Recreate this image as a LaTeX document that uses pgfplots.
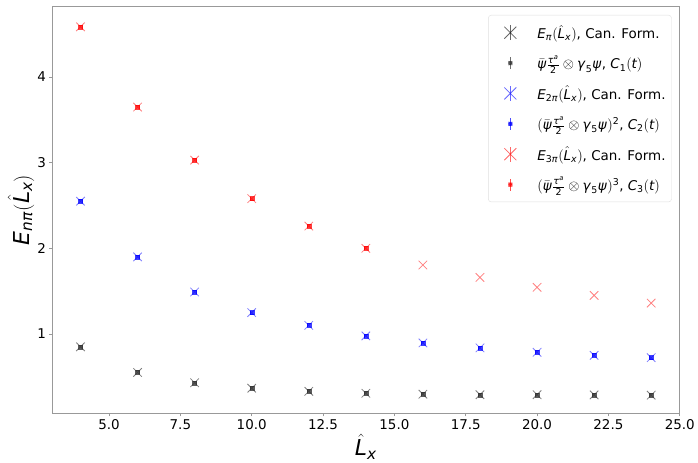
\documentclass[border=0pt]{standalone}
\usepackage{mathspec}
\setmainfont{DejaVu Sans}
\setmathsfont(Digits,Latin,Greek){DejaVu Sans}
\usepackage{pgfplots}
\pgfplotsset{compat=1.18}

% legend images: errorbar with x marker, errorbar with small square
\pgfplotsset{
  xleg/.style={legend image code/.code={
      \path[draw=none, fill=none] (0bp,0bp) -- (43bp,0bp);
      \draw[#1, line width=0.8pt, opacity=0.6] (18bp,-7.5bp) -- (18bp,7.5bp);
      \draw[#1, line width=0.8pt, opacity=0.6]
        (12bp,-6bp) -- (24bp,6bp) (12bp,6bp) -- (24bp,-6bp);}},
  sqleg/.style={legend image code/.code={
      \path[draw=none, fill=none] (0bp,0bp) -- (43bp,0bp);
      \draw[#1, line width=1.6pt, opacity=0.7] (18bp,-6bp) -- (18bp,6bp);
      \fill[#1, opacity=0.8] (16.2bp,-1.8bp) rectangle (19.8bp,1.8bp);}},
}

\begin{document}
\begin{tikzpicture}
\begin{axis}[
  scale only axis, width=628bp, height=408bp,
  xmin=3, xmax=25, ymin=0.067, ymax=4.83,
  xtick={5,7.5,...,25}, ytick={1,2,3,4},
  xticklabel style={/pgf/number format/fixed, /pgf/number format/fixed zerofill,
    /pgf/number format/precision=1},
  /pgf/number format/assume math mode=true,
  tick label style={font=\fontsize{13.5}{16}\selectfont},
  axis line style={draw=gray!80, line width=0.8pt},
  tick style={draw=gray!80, line width=0.6pt}, tick align=outside,
  major tick length=2.5bp, xtick pos=bottom, ytick pos=left,
  xlabel={$\hat{L}_x$}, ylabel={$E_{n\pi}(\hat{L}_x)$},
  every axis x label/.style={at={(axis description cs:0.5,0)}, anchor=center,
    yshift=-33bp, font=\fontsize{22}{26}\selectfont},
  every axis y label/.style={at={(axis description cs:0,0.5)}, rotate=90,
    anchor=center, yshift=31bp, font=\fontsize{22}{26}\selectfont},
  legend style={at={(1,1)}, anchor=north east, xshift=-8bp, yshift=-9bp,
    draw=gray!25, rounded corners=3pt, inner xsep=4bp, inner ysep=8bp,
    font=\fontsize{13.5}{16}\selectfont, row sep=11.5bp},
  legend cell align=left,
]
\addplot[only marks, mark=x, mark size=6bp, black, opacity=0.5,
  mark options={line width=0.8pt}, xleg={black}]
  coordinates {(4,0.85) (6,0.55) (8,0.43) (10,0.366) (12,0.33) (14,0.307)
    (16,0.296) (18,0.29) (20,0.29) (22,0.288) (24,0.285)};
\addlegendentry{$E_{\pi}(\hat{L}_x)$, Can. Form.}
\addplot[only marks, mark=square*, mark size=2bp, black!80, opacity=0.8, sqleg={black!80}]
  coordinates {(4,0.85) (6,0.55) (8,0.43) (10,0.366) (12,0.33) (14,0.307)
    (16,0.296) (18,0.29) (20,0.29) (22,0.288) (24,0.285)};
\addlegendentry{$\bar{\psi}\frac{\tau^a}{2}\otimes\gamma_5\psi$, $C_1(t)$}
\addplot[only marks, mark=x, mark size=6bp, blue, opacity=0.5,
  mark options={line width=0.8pt}, xleg={blue}]
  coordinates {(4,2.55) (6,1.90) (8,1.49) (10,1.25) (12,1.10) (14,0.977)
    (16,0.895) (18,0.837) (20,0.786) (22,0.75) (24,0.723)};
\addlegendentry{$E_{2\pi}(\hat{L}_x)$, Can. Form.}
\addplot[only marks, mark=square*, mark size=2bp, blue, opacity=0.75, sqleg={blue}]
  coordinates {(4,2.55) (6,1.90) (8,1.49) (10,1.25) (12,1.10) (14,0.977)
    (16,0.895) (18,0.837) (20,0.786) (22,0.75) (24,0.723)};
\addlegendentry{$(\bar{\psi}\frac{\tau^a}{2}\otimes\gamma_5\psi)^2$, $C_2(t)$}
\addplot[only marks, mark=x, mark size=6bp, red, opacity=0.5,
  mark options={line width=0.8pt}, xleg={red}]
  coordinates {(4,4.587) (6,3.65) (8,3.03) (10,2.58) (12,2.26) (14,2.0)
    (16,1.805) (18,1.66) (20,1.545) (22,1.45) (24,1.36)};
\addlegendentry{$E_{3\pi}(\hat{L}_x)$, Can. Form.}
\addplot[only marks, mark=square*, mark size=2bp, red, opacity=0.75, sqleg={red}]
  coordinates {(4,4.587) (6,3.65) (8,3.03) (10,2.58) (12,2.26) (14,2.0)};
\addlegendentry{$(\bar{\psi}\frac{\tau^a}{2}\otimes\gamma_5\psi)^3$, $C_3(t)$}
\end{axis}
\path ([shift={(-52bp,-49bp)}]current axis.south west)
  rectangle ([shift={(18bp,6bp)}]current axis.north east);
\end{tikzpicture}
\end{document}
